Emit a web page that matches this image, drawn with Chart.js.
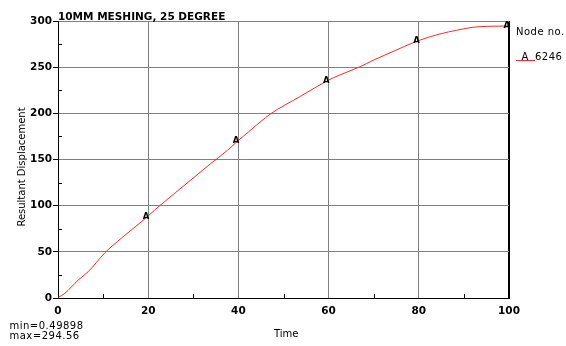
<!DOCTYPE html>
<html><head><meta charset="utf-8">
<script src="https://cdn.jsdelivr.net/npm/chart.js@4.4.0/dist/chart.umd.min.js"></script>
<style>
html,body{margin:0;padding:0;background:#fff;overflow:hidden;}
#wrap{position:relative;width:566px;height:346px;font-family:"DejaVu Sans",sans-serif;color:#000;}
canvas{position:absolute;left:0;top:0;}
.t{position:absolute;white-space:nowrap;font-size:10px;line-height:10px;}
.b{font-weight:bold;}
.s{letter-spacing:0.5px;}
</style></head><body>
<div id="wrap">
<canvas id="c" width="566" height="346"></canvas>
<div class="t b" style="left:58px;top:11px;font-size:10.5px;line-height:10.5px;">10MM MESHING, 25 DEGREE</div>
<div class="t" style="left:-48.5px;top:161.7px;width:140px;text-align:center;transform:rotate(-90deg);">Resultant Displacement</div>
<div class="t" style="left:274px;top:329px;">Time</div>
<div class="t s" style="left:9.5px;top:321px;">min=0.49898</div>
<div class="t s" style="left:9.5px;top:331px;">max=294.56</div>
<div class="t s" style="left:516px;top:26.5px;">Node no.</div>
<div style="position:absolute;left:516px;top:60px;width:19px;height:0;border-top:1px solid rgb(255,40,40);"></div>
<div class="t" style="left:521.5px;top:52px;">A</div>
<div class="t s" style="left:535px;top:51.5px;">6246</div>
</div>
<script>
// Data
const timeValues = [0, 1.5, 4.5, 6.7, 10.4, 14.1, 18.6, 21.5, 26, 30, 33.7, 37.6, 39.5, 43, 47, 53.6, 60, 62.5, 67, 69.9, 74.3, 79.5, 84.7, 88.4, 92.1, 96, 100];
const displacementValues = [0.5, 5, 19.5, 28.5, 49, 65, 83, 95.5, 114, 130, 145, 160, 168.5, 183, 199, 218, 236, 241.6, 250.5, 257.5, 267, 278, 286, 290, 293.3, 294.3, 294.56];
const markerTimes = [19.5, 39.5, 59.5, 79.5, 99.5];
const markerValues = [89, 171, 236, 279, 296];
const markerLabel = 'A';
const xTickValues = [0, 20, 40, 60, 80, 100];
const yTickValues = [0, 50, 100, 150, 200, 250, 300];
const xMinorTicks = [10, 30, 50, 70, 90];
const yMinorTicks = [25, 75, 125, 175, 225, 275];

const lineColor = 'rgb(255,40,40)';
const gridColor = '#808080';

const lineData = timeValues.map((t, i) => ({x: t, y: displacementValues[i]}));
const markerData = markerTimes.map((t, i) => ({x: t, y: markerValues[i]}));

const extrasPlugin = {
  id: 'extras',
  afterDatasetsDraw(chart) {
    const ctx = chart.ctx;
    const xs = chart.scales.x, ys = chart.scales.y;
    const area = chart.chartArea;
    ctx.save();
    ctx.strokeStyle = '#000';
    ctx.lineWidth = 1;
    ctx.beginPath();
    xMinorTicks.forEach(v => {
      const px = Math.round(xs.getPixelForValue(v)) + 0.5;
      ctx.moveTo(px, area.bottom);
      ctx.lineTo(px, area.bottom - 4);
    });
    yMinorTicks.forEach(v => {
      const py = Math.round(ys.getPixelForValue(v)) + 0.5;
      ctx.moveTo(area.left, py);
      ctx.lineTo(area.left + 4, py);
    });
    ctx.stroke();
    const meta = chart.getDatasetMeta(1);
    ctx.fillStyle = '#000';
    ctx.font = 'bold 8.5px "DejaVu Sans"';
    ctx.textAlign = 'center';
    ctx.textBaseline = 'alphabetic';
    meta.data.forEach(pt => {
      ctx.fillText(markerLabel, pt.x, pt.y + 3);
    });
    ctx.restore();
  }
};

new Chart(document.getElementById('c'), {
  type: 'scatter',
  data: {
    datasets: [
      {data: lineData, showLine: true, borderColor: lineColor, borderWidth: 1, pointRadius: 0, cubicInterpolationMode: 'monotone', fill: false},
      {data: markerData, showLine: false, pointRadius: 0, borderWidth: 0}
    ]
  },
  options: {
    responsive: false,
    animation: false,
    events: [],
    layout: {padding: {left: 0, top: 21, right: 57, bottom: 0}},
    plugins: {legend: {display: false}, tooltip: {enabled: false}, title: {display: false}},
    scales: {
      x: {
        type: 'linear', min: 0, max: 100,
        afterFit(s) { s.height = 48; },
        afterBuildTicks(s) { s.ticks = xTickValues.map(v => ({value: v})); },
        ticks: {color: '#000', font: {family: 'DejaVu Sans', size: 10.5, weight: 'bold'}, padding: 7, maxRotation: 0},
        grid: {
          drawTicks: false,
          color: c => (c.tick && c.tick.value === 100) ? '#000' : gridColor,
          lineWidth: c => (c.tick && c.tick.value === 100) ? 2 : 1
        },
        border: {display: true, color: '#000', width: 1}
      },
      y: {
        type: 'linear', min: 0, max: 300,
        afterFit(s) { s.width = 58; },
        afterBuildTicks(s) { s.ticks = yTickValues.map(v => ({value: v})); },
        ticks: {color: '#000', font: {family: 'DejaVu Sans', size: 10.5, weight: 'bold'}, padding: 1},
        grid: {drawTicks: true, tickLength: 5, tickColor: '#000', color: gridColor, lineWidth: 1},
        border: {display: true, color: '#000', width: 1}
      }
    }
  },
  plugins: [extrasPlugin]
});
</script>
</body></html>
